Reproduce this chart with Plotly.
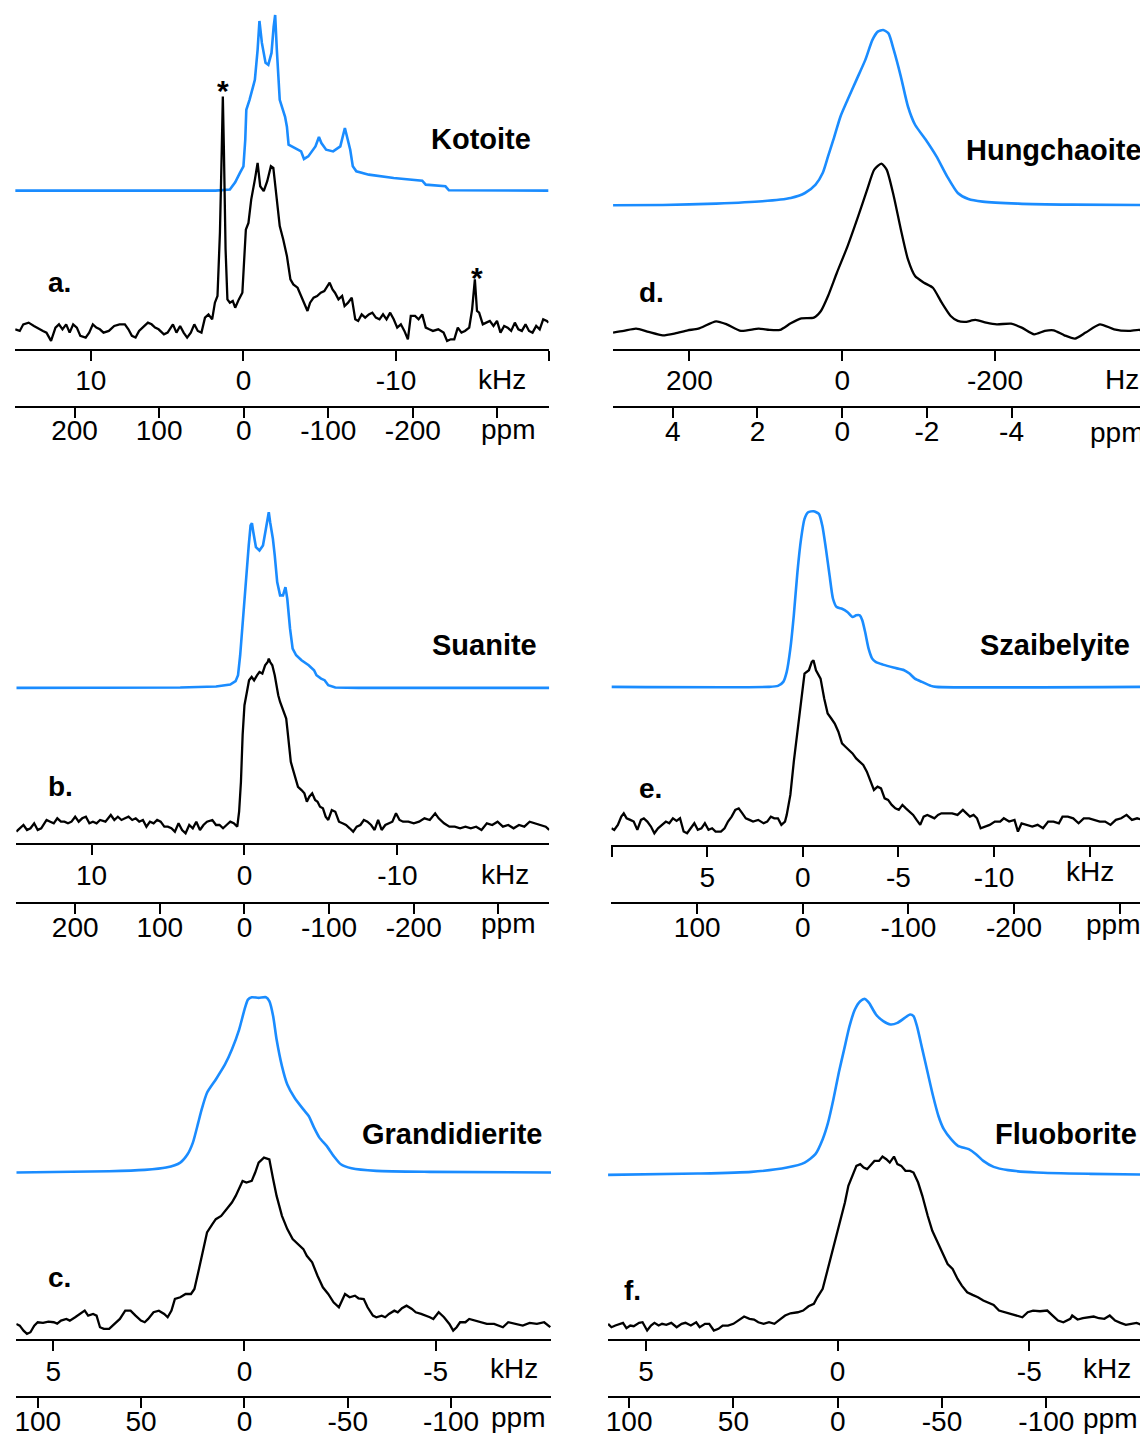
import plotly.graph_objects as go

W, H = 1148, 1437          # target page size
OFF = 8                    # default page body margin
FW, FH = W - OFF, H - OFF  # figure size
BLUE = '#1A8CFF'
BLACK = '#000000'
FONT = 'Liberation Sans, Arial, Helvetica, sans-serif'

# ---------------- data (frequency, intensity) ----------------
# a. Kotoite  (kHz)
kotoite_sim = [(14.96,0),(1.82,0),(0.89,1),(0.54,8.3),(0.23,17.7),(0.0,24.3),(-0.12,51),(-0.19,81),(-0.40,91),(-0.75,111),(-0.93,141),(-1.05,170),(-1.21,148),(-1.45,128),(-1.63,126),(-1.84,138),(-1.98,164),(-2.08,176),(-2.19,141),(-2.38,91),(-2.73,74),(-2.85,64),(-2.96,46),(-3.55,41.7),(-3.78,39.3),(-3.97,31.7),(-4.25,34.3),(-4.72,44.3),(-4.95,53.7),(-5.11,47.7),(-5.42,41),(-5.88,39.3),(-6.35,44.3),(-6.65,62.7),(-6.82,51),(-7.00,41),(-7.17,24.3),(-7.40,19.3),(-8.22,16),(-9.85,12.7),(-11.72,10),(-11.95,6),(-13.24,4.3),(-13.47,0.3),(-20.0,0)]
kotoite_exp = [(14.96,3.3),(14.66,1.7),(14.43,8.3),(14.08,10),(13.73,6.7),(13.49,5),(13.14,1.7),(12.91,0),(12.61,-8.3),(12.32,5),(12.09,8.3),(11.86,3.3),(11.62,8.3),(11.39,0),(11.16,8.3),(10.92,5),(10.69,-3.3),(10.34,-5),(10.11,0),(9.87,8.3),(9.64,5),(9.41,3.3),(9.17,0),(8.82,1.7),(8.47,6.7),(8.12,8.3),(7.77,8.3),(7.54,3.3),(7.31,-3.3),(7.07,-5),(6.84,1.7),(6.49,6.7),(6.26,10),(6.02,8.3),(5.79,5),(5.56,3.3),(5.21,-1.7),(4.97,0),(4.62,8.3),(4.39,0),(4.15,6.7),(3.92,0),(3.69,-5),(3.45,0),(3.22,8.3),(2.99,1.7),(2.75,0),(2.52,15),(2.29,18.3),(2.05,13.3),(1.87,30),(1.70,36.7),(1.54,100),(1.42,183.3),(1.35,236.7),(1.28,183.3),(1.17,83.3),(1.05,33.3),(0.89,30),(0.70,31.7),(0.54,25),(0.30,33.3),(0.07,40),(-0.05,73.3),(-0.16,103.3),(-0.33,110),(-0.51,133.3),(-0.75,153.3),(-0.93,170),(-1.10,146.7),(-1.33,141.7),(-1.56,151.7),(-1.80,166.7),(-1.96,165),(-2.15,140),(-2.38,106.7),(-2.61,93.3),(-2.85,76.7),(-3.08,53.3),(-3.27,48.3),(-3.55,45),(-3.78,36.7),(-4.01,30),(-4.20,21.7),(-4.37,30),(-4.60,35),(-4.83,36.7),(-5.07,40),(-5.30,41.7),(-5.53,46.7),(-5.65,50),(-5.84,43.3),(-6.00,40),(-6.23,33.3),(-6.47,36.7),(-6.63,26.7),(-6.86,30),(-7.10,35),(-7.33,13.3),(-7.52,11.7),(-7.75,18.3),(-7.98,15),(-8.22,18.3),(-8.45,20),(-8.68,15),(-8.92,13.3),(-9.15,18.3),(-9.38,13.3),(-9.62,20),(-9.85,13.3),(-10.08,5),(-10.32,8.3),(-10.55,1.7),(-10.78,-6.7),(-10.97,16.7),(-11.25,16.7),(-11.48,13.3),(-11.72,18.3),(-11.95,5),(-12.18,3.3),(-12.42,1.7),(-12.77,3.3),(-13.12,0),(-13.35,-8.3),(-13.59,-6.7),(-13.82,-6.7),(-14.05,5),(-14.29,0),(-14.52,1.7),(-14.80,5),(-14.99,23.3),(-15.17,53.3),(-15.31,21.7),(-15.45,20),(-15.69,8.3),(-15.92,10),(-16.15,11.7),(-16.39,6.7),(-16.62,11.7),(-16.85,0),(-17.09,6.7),(-17.32,5),(-17.55,1.7),(-17.79,10),(-18.02,3.3),(-18.25,1.7),(-18.49,8.3),(-18.72,1.7),(-18.95,0),(-19.19,6.7),(-19.42,3.3),(-19.65,13.3),(-19.89,11.7),(-20.0,10)]

# b. Suanite  (kHz)
suanite_sim = [(14.92,0),(4.20,0.3),(1.86,1.3),(0.93,3.3),(0.58,6.7),(0.42,12.7),(0.28,32.7),(0.12,66),(-0.12,112.7),(-0.28,142.7),(-0.40,162.7),(-0.49,165),(-0.58,156),(-0.75,141),(-0.98,137.7),(-1.21,142.7),(-1.40,159.3),(-1.59,176),(-1.68,166),(-1.86,149.3),(-1.98,132.7),(-2.14,106),(-2.33,92.7),(-2.52,92.7),(-2.68,101),(-2.80,89.3),(-2.98,59.3),(-3.15,39.3),(-3.38,32.7),(-3.73,27.7),(-4.20,22.7),(-4.55,17.7),(-4.71,12.7),(-5.01,9.3),(-5.24,7.7),(-5.48,2.7),(-5.94,0.3),(-7.46,0),(-19.93,0)]
suanite_exp = [(14.92,-6.7),(14.69,-3.3),(14.45,0),(14.22,-5),(13.99,-3.3),(13.75,1.7),(13.52,-5),(13.29,-3.3),(12.94,5),(12.70,3.3),(12.47,1.7),(12.24,6.7),(12.00,3.3),(11.77,3.3),(11.54,1.7),(11.31,3.3),(11.07,8.3),(10.84,3.3),(10.61,6.7),(10.37,8.3),(10.14,1.7),(9.91,3.3),(9.67,1.7),(9.44,5),(9.09,3.3),(8.74,10),(8.51,5),(8.28,8.3),(8.04,5),(7.81,6.7),(7.58,8.3),(7.34,5),(7.11,6.7),(6.88,3.3),(6.64,5),(6.41,-1.7),(6.18,3.3),(5.94,1.7),(5.71,5),(5.48,3.3),(5.24,-1.7),(5.01,-1.7),(4.78,-3.3),(4.55,-6.7),(4.31,1.7),(4.08,-5),(3.85,-8.3),(3.61,0),(3.38,-3.3),(3.15,3.3),(2.91,-5),(2.68,0),(2.45,3.3),(2.10,5),(1.86,0),(1.63,0),(1.40,-3.3),(1.17,0),(0.93,3.3),(0.70,1.7),(0.47,-1.7),(0.35,13.3),(0.23,43.3),(0.12,90),(0.0,120),(-0.16,133.3),(-0.30,145),(-0.47,148.3),(-0.63,145),(-0.82,150),(-0.98,153.3),(-1.17,151.7),(-1.35,160),(-1.52,163.3),(-1.59,166.7),(-1.68,163.3),(-1.82,160),(-1.98,150),(-2.10,136.7),(-2.21,130),(-2.33,123.3),(-2.56,113.3),(-2.73,106.7),(-2.80,96.7),(-2.91,76.7),(-3.03,63.3),(-3.15,56.7),(-3.26,50),(-3.50,38.3),(-3.73,35),(-3.92,31.7),(-4.08,23.3),(-4.24,28.3),(-4.43,31.7),(-4.62,25),(-4.78,23.3),(-4.94,18.3),(-5.13,16.7),(-5.31,8.3),(-5.48,5),(-5.71,15),(-5.94,13.3),(-6.18,3.3),(-6.41,1.7),(-6.64,0),(-6.88,-3.3),(-7.11,-6.7),(-7.34,-1.7),(-7.58,0),(-7.81,5),(-8.04,3.3),(-8.28,0),(-8.51,-5),(-8.74,5),(-8.97,-5),(-9.21,0),(-9.44,1.7),(-9.67,3.3),(-9.91,11.7),(-10.14,5),(-10.37,3.3),(-10.72,3.3),(-11.07,1.7),(-11.42,3.3),(-11.77,6.7),(-12.12,5),(-12.47,11.7),(-12.70,6.7),(-13.05,1.7),(-13.40,-1.7),(-13.75,-1.7),(-14.10,-3.3),(-14.45,-1.7),(-14.80,-3.3),(-15.15,-1.7),(-15.50,-5),(-15.85,1.7),(-16.20,0),(-16.55,3.3),(-16.90,-1.7),(-17.25,0),(-17.60,-3.3),(-17.95,0),(-18.30,-1.7),(-18.65,3.3),(-19.00,1.7),(-19.35,0),(-19.70,-1.7),(-19.93,-5)]

# c. Grandidierite  (kHz)
grandidierite_sim = [(5.97,0),(3.54,1.3),(2.61,2.7),(2.05,5),(1.68,10),(1.49,18.3),(1.35,30),(1.21,50),(1.12,63.3),(0.98,80),(0.75,93.3),(0.51,108.3),(0.33,123.3),(0.14,143.3),(0.0,163.3),(-0.09,173.3),(-0.19,175.7),(-0.37,175),(-0.56,175.7),(-0.65,171.7),(-0.75,156.7),(-0.84,133.3),(-0.98,106.7),(-1.12,88.3),(-1.31,75),(-1.54,63.3),(-1.68,56.7),(-1.82,45),(-1.96,35),(-2.15,26.7),(-2.33,16.7),(-2.52,8.3),(-2.80,4.3),(-3.45,1.7),(-4.85,0.7),(-8.02,0)]
grandidierite_exp = [(5.97,0),(5.88,-1.7),(5.78,-6.7),(5.69,-10),(5.60,-8.3),(5.50,-1.7),(5.41,1.7),(5.27,1),(5.13,2.3),(4.99,1.7),(4.90,0.3),(4.80,3.3),(4.66,5),(4.57,3.3),(4.43,6.7),(4.29,10),(4.18,13.3),(4.09,8.3),(3.96,10),(3.87,8.3),(3.78,-3.3),(3.68,-5),(3.54,-5),(3.45,-1.7),(3.36,1.7),(3.26,5),(3.12,13.3),(2.98,13.3),(2.85,8.3),(2.71,3.3),(2.61,1.7),(2.52,5),(2.38,11.7),(2.24,13.3),(2.10,10),(2.01,6.7),(1.91,13.3),(1.82,25),(1.68,26.7),(1.54,30),(1.40,30),(1.31,35),(1.21,51.7),(1.12,68.3),(0.98,91.7),(0.84,100),(0.75,105),(0.61,108.3),(0.47,115),(0.33,121.7),(0.23,128.3),(0.14,136.7),(0.05,143.3),(-0.05,141.7),(-0.19,143.3),(-0.28,151.7),(-0.37,161.7),(-0.51,166.7),(-0.65,165),(-0.75,145),(-0.84,128.3),(-0.98,108.3),(-1.12,95),(-1.26,85),(-1.40,80),(-1.54,75),(-1.63,68.3),(-1.77,61.7),(-1.91,48.3),(-2.05,36.7),(-2.19,30),(-2.33,21.7),(-2.47,16.7),(-2.57,25),(-2.63,30),(-2.75,26.7),(-2.89,28.3),(-2.98,25.7),(-3.12,25),(-3.22,16.7),(-3.36,8.3),(-3.45,6.7),(-3.59,8.3),(-3.68,6.7),(-3.78,10),(-3.92,13.3),(-4.01,11.7),(-4.12,15.7),(-4.24,18.3),(-4.38,15),(-4.48,11.7),(-4.62,10),(-4.76,8.3),(-4.85,6.7),(-4.94,5),(-5.08,11.7),(-5.22,6.7),(-5.36,0),(-5.46,-6.7),(-5.55,-3.3),(-5.64,1.7),(-5.78,1.7),(-5.88,5),(-6.02,3.3),(-6.16,1.7),(-6.34,0),(-6.53,0),(-6.67,-1.7),(-6.76,-3.3),(-6.90,1.7),(-7.09,0),(-7.28,-1.7),(-7.46,1),(-7.65,0),(-7.84,1.7),(-8.0,-3.3)]

# d. Hungchaoite  (Hz)
hungchaoite_sim = [(300,0),(234.9,0.3),(165.1,1.7),(104.6,4),(67.4,7.3),(48.8,12.3),(34.9,20.7),(25.6,32.3),(18.6,49),(11.6,65.7),(2.3,89),(-7.0,105.7),(-18.6,125.7),(-30.2,145.7),(-39.5,165.7),(-46.5,174),(-53.5,175.7),(-60.5,172.3),(-67.4,155.7),(-76.7,129),(-86.0,99),(-95.3,80.7),(-109.3,65.7),(-123.3,49),(-137.2,29),(-151.2,12.3),(-165.1,6.3),(-183.7,3.7),(-230.2,1.7),(-300,0.7),(-399,0.3)]
hungchaoite_exp = [(300,0),(286.0,1.7),(269.8,4),(253.5,0.7),(234.9,-2.7),(218.6,-0.7),(202.3,2.3),(188.4,4),(165.1,11.3),(151.2,8.3),(132.6,1.7),(109.3,4),(95.3,2.7),(81.4,2.7),(67.4,9.3),(53.5,14.3),(37.2,15),(27.9,21.7),(18.6,36.7),(7.0,60),(-7.0,86.7),(-20.9,116.7),(-32.6,143.3),(-41.9,163.3),(-51.2,169.3),(-58.1,163.3),(-67.4,136.7),(-76.7,103.3),(-86.0,73.3),(-95.3,56.7),(-107.0,50),(-118.6,45),(-130.2,30),(-141.9,16.7),(-151.2,11.7),(-160.5,10.7),(-174.4,12.7),(-188.4,10),(-202.3,8.3),(-220.9,9),(-234.9,5),(-251.2,-1.7),(-265.1,1.7),(-276.7,2.3),(-290.7,-2.7),(-304.7,-6),(-318.6,0),(-337.2,8.3),(-355.8,3.3),(-374.4,1.7),(-388.4,2.7),(-399,1.3)]

# e. Szaibelyite  (kHz)
szaibelyite_sim = [(10.0,0),(1.77,0),(1.30,1),(1.02,5),(0.84,15),(0.65,38.3),(0.47,71.7),(0.28,115),(0.09,148.3),(-0.09,168.3),(-0.28,175),(-0.56,176),(-0.84,173.3),(-1.02,161.7),(-1.21,138.3),(-1.40,111.7),(-1.58,88.3),(-1.77,80),(-2.05,78.3),(-2.33,75),(-2.60,70),(-2.79,71.7),(-2.98,71.7),(-3.11,66.7),(-3.26,55),(-3.44,38.3),(-3.63,28.3),(-3.81,25),(-4.19,22.3),(-4.74,19.3),(-5.30,16.7),(-5.58,13.3),(-5.86,8.3),(-6.23,5),(-6.70,1),(-6.98,0),(-18.05,0)]
szaibelyite_exp = [(10.0,-6.7),(9.86,-8.3),(9.67,-3.3),(9.49,5),(9.36,8.3),(9.21,3.3),(9.02,1.7),(8.84,0),(8.65,-8.3),(8.46,1.7),(8.31,3.3),(8.13,0),(7.94,-5),(7.76,-11.7),(7.57,-6.7),(7.35,-3.3),(7.16,0),(6.98,-1.7),(6.79,3.3),(6.60,0.7),(6.42,3.3),(6.23,-10),(6.05,-11.7),(5.86,-6.7),(5.67,-1.7),(5.49,-8.3),(5.30,-6.7),(5.12,-1.7),(4.93,-8.3),(4.74,-6.7),(4.56,-10),(4.28,-10),(4.09,-6.7),(3.91,0),(3.72,5),(3.53,11.7),(3.35,13.3),(3.16,8.3),(2.98,3.3),(2.79,1.7),(2.60,0),(2.33,1.7),(2.05,-1.7),(1.86,0),(1.67,5),(1.49,3.3),(1.30,3.3),(1.12,-3.3),(0.93,0),(0.84,6.7),(0.65,26.7),(0.47,60),(0.28,93.3),(0.09,120),(-0.09,148.3),(-0.32,151.7),(-0.47,160),(-0.56,161.7),(-0.69,151.7),(-0.93,143.3),(-1.12,123.3),(-1.30,108.3),(-1.49,103.3),(-1.67,98.3),(-1.86,90),(-2.05,78.3),(-2.23,75),(-2.42,71.7),(-2.60,68.3),(-2.79,63.3),(-2.98,60),(-3.16,56.7),(-3.35,50),(-3.53,40),(-3.72,31.7),(-3.91,35),(-4.09,33.3),(-4.28,23.3),(-4.46,21.7),(-4.65,16.7),(-4.84,13.3),(-5.02,11.7),(-5.21,16.7),(-5.39,13.3),(-5.58,10),(-5.77,6.7),(-5.95,1.7),(-6.14,-3.3),(-6.32,5),(-6.51,6.7),(-6.70,5),(-6.88,3.3),(-7.07,6.7),(-7.25,8.3),(-7.53,8.3),(-7.81,8.3),(-8.09,6.7),(-8.37,11.7),(-8.56,8.3),(-8.74,5),(-8.93,6.7),(-9.11,3.3),(-9.30,-6.7),(-9.49,-5),(-9.77,-3.3),(-10.04,0),(-10.32,0),(-10.51,3.3),(-10.79,0),(-11.07,1.7),(-11.25,-10),(-11.44,-1.7),(-11.72,-3.3),(-12.00,-5),(-12.28,-3.3),(-12.56,-6.7),(-12.83,0),(-13.11,0),(-13.39,-1.7),(-13.58,5),(-13.86,5),(-14.14,3.3),(-14.42,-1.7),(-14.69,3.3),(-14.97,3.3),(-15.25,1.7),(-15.53,0),(-15.81,0),(-16.09,-3.3),(-16.37,1.7),(-16.65,3.3),(-16.93,6.7),(-17.21,1.7),(-17.48,3.3),(-17.76,1.7),(-17.95,8.3)]

# f. Fluoborite  (kHz)
fluoborite_sim = [(5.99,0),(3.65,1.3),(2.25,3),(1.32,7.3),(0.86,12.3),(0.58,20.7),(0.39,35.7),(0.25,52.3),(0.11,75.7),(-0.03,102.3),(-0.17,125.7),(-0.31,149),(-0.45,165.7),(-0.59,174),(-0.71,176.3),(-0.82,172.3),(-1.00,160.7),(-1.19,154),(-1.38,150.7),(-1.56,152.3),(-1.75,157.3),(-1.89,160.7),(-1.98,159),(-2.07,149),(-2.21,125.7),(-2.35,102.3),(-2.49,79),(-2.63,59),(-2.77,45.7),(-2.96,35.7),(-3.14,29),(-3.42,25.7),(-3.61,20.7),(-3.80,14),(-4.07,8),(-4.45,4.7),(-5.19,2.3),(-6.59,1),(-8.03,0.3)]
fluoborite_exp = [(5.99,1.7),(5.90,-1.7),(5.80,0),(5.69,1.7),(5.60,2.7),(5.51,-2.7),(5.41,0),(5.32,-0.7),(5.18,2.7),(5.09,3.3),(4.97,-5),(4.87,0),(4.78,2.7),(4.67,0),(4.58,1.7),(4.47,0.7),(4.34,2.7),(4.20,-1.7),(4.07,1.7),(3.97,2.7),(3.83,0),(3.69,3.3),(3.60,-1.7),(3.46,1.7),(3.35,1.7),(3.23,-5),(3.11,-3.3),(3.00,0),(2.86,0),(2.72,1.7),(2.58,5),(2.44,9),(2.30,6.7),(2.18,6),(2.07,3.3),(1.93,1.7),(1.79,3.3),(1.65,1.7),(1.51,6),(1.37,10),(1.23,12.3),(1.04,13.3),(0.90,15),(0.76,19.3),(0.62,21.7),(0.53,28.3),(0.39,36.7),(0.30,50),(0.20,63.3),(0.11,76.7),(0.02,90),(-0.07,103.3),(-0.19,123.3),(-0.28,140),(-0.40,151.7),(-0.49,160),(-0.59,161.7),(-0.68,158.3),(-0.77,156.7),(-0.87,160.7),(-0.96,165),(-1.08,165),(-1.17,169.3),(-1.27,166.7),(-1.36,163.3),(-1.47,169.3),(-1.56,161.7),(-1.66,160),(-1.77,155),(-1.89,155),(-1.98,153.3),(-2.10,143.3),(-2.21,130),(-2.35,110),(-2.47,95),(-2.59,85),(-2.73,73.3),(-2.87,61.7),(-3.00,56.7),(-3.13,46.7),(-3.24,40),(-3.38,33.3),(-3.52,30.7),(-3.66,28.3),(-3.80,25),(-3.93,22.7),(-4.07,20.7),(-4.21,15),(-4.35,13.3),(-4.54,11.7),(-4.68,10),(-4.82,8.3),(-4.96,13.3),(-5.10,15),(-5.28,14.3),(-5.47,15),(-5.61,10),(-5.75,5),(-5.89,3.3),(-6.07,6.7),(-6.12,10),(-6.26,6),(-6.40,7.3),(-6.54,8.3),(-6.68,9),(-6.82,7.3),(-6.96,6.7),(-7.10,10),(-7.24,5),(-7.38,2.7),(-7.52,0.7),(-7.66,1.7),(-7.80,2.7),(-7.93,0.7),(-8.03,0)]

# axis ticks / labels
titles = ['Kotoite', 'Suanite', 'Grandidierite', 'Hungchaoite', 'Szaibelyite', 'Fluoborite']
letters = ['a.', 'b.', 'c.', 'd.', 'e.', 'f.']
freq_units = ['kHz', 'kHz', 'kHz', 'Hz', 'kHz', 'kHz']
freq_ticks = [[10, 0, -10, -20], [10, 0, -10, -20], [5, 0, -5], [200, 0, -200, -400], [10, 5, 0, -5, -10, -15], [5, 0, -5]]
freq_ticktext = [['10', '0', '-10', ''], ['10', '0', '-10', ''], ['5', '0', '-5'], ['200', '0', '-200', ''],
                 ['', '5', '0', '-5', '-10', ''], ['5', '0', '-5']]
ppm_ticks = [[200, 100, 0, -100, -200, -300], [200, 100, 0, -100, -200, -300], [100, 50, 0, -50, -100],
             [4, 2, 0, -2, -4], [100, 0, -100, -200, -300], [100, 50, 0, -50, -100]]
ppm_ticktext = [['200', '100', '0', '-100', '-200', ''], ['200', '100', '0', '-100', '-200', ''],
                ['100', '50', '0', '-50', '-100'], ['4', '2', '0', '-2', '-4'],
                ['100', '0', '-100', '-200', ''], ['100', '50', '0', '-50', '-100']]

# ---------------- layout geometry (page pixels) ----------------
panels = [
    dict(sim=kotoite_sim, exp=kotoite_exp, x0=13.2, x1=547.5, xr=[14.96, -20.0], top=0, axis=349.3, base=333.3,
         offset=142.3, ppm_axis=406.7, ppm_range=[270.2, -360.5], unit_pos=(501, 380), ppm_pos=(507, 430),
         title_pos=(480, 139.3), letter_pos=(58, 283), sim_shape='linear', exp_shape='linear'),
    dict(sim=suanite_sim, exp=suanite_exp, x0=14.3, x1=548.2, xr=[14.92, -19.93], top=490, axis=845, base=826.7,
         offset=137.4, ppm_axis=904.3, ppm_range=[269.6, -360.2], unit_pos=(503.6, 876.7), ppm_pos=(507, 925),
         title_pos=(483, 646.7), letter_pos=(58.5, 788.3), sim_shape='linear', exp_shape='linear'),
    dict(sim=grandidierite_sim, exp=grandidierite_exp, x0=14.3, x1=550.0, xr=[5.97, -8.02], top=985, axis=1341.7,
         base=1326.7, offset=151.7, ppm_axis=1399.3, ppm_range=[110.4, -148.4], unit_pos=(512.5, 1371.7),
         ppm_pos=(517, 1420.5), title_pos=(451, 1136.7), letter_pos=(58, 1280), sim_shape='spline', exp_shape='linear'),
    dict(sim=hungchaoite_sim, exp=hungchaoite_exp, x0=612.1, x1=1147.1, xr=[300, -399], top=0, axis=349.3, base=333.3,
         offset=127.6, ppm_axis=407.3, ppm_range=[5.41, -7.2], unit_pos=(1122, 380), ppm_pos=(1117, 433.3),
         title_pos=(1053.5, 150), letter_pos=(650.5, 293.3), sim_shape='spline', exp_shape='spline'),
    dict(sim=szaibelyite_sim, exp=szaibelyite_exp, x0=610.4, x1=1148, xr=[10.01, -18.05], top=490, axis=846.7,
         base=823.3, offset=135, ppm_axis=904.3, ppm_range=[181.3, -326.9], unit_pos=(1090, 873.3),
         ppm_pos=(1113.2, 926.7), title_pos=(1055, 646.7), letter_pos=(649.5, 790), sim_shape='spline', exp_shape='linear'),
    dict(sim=fluoborite_sim, exp=fluoborite_exp, x0=607.1, x1=1145.4, xr=[5.99, -8.03], top=985, axis=1341.7,
         base=1328.3, offset=151, ppm_axis=1399.3, ppm_range=[110.1, -147.5], unit_pos=(1107, 1371.7),
         ppm_pos=(1110.4, 1421.7), title_pos=(1066, 1136.7), letter_pos=(632, 1293.3), sim_shape='spline', exp_shape='linear'),
]
star_pos = [(221.4, 91), (475.7, 278)]


def fy(py):
    return min(1.0, 1 - (py - OFF) / FH)


def fx(px):
    return max(0.0, min(1.0, (px - OFF) / FW))


def ax_names(n):
    if n == 1:
        return 'x', 'y', 'xaxis', 'yaxis'
    return f'x{n}', f'y{n}', f'xaxis{n}', f'yaxis{n}'


fig = go.Figure()
layout = {}
annotations = []
TICKFONT = dict(family=FONT, size=28, color=BLACK)

for i, p in enumerate(panels):
    n = i + 1
    m = i + 7
    xa, ya, xk, yk = ax_names(n)
    xb, yb, xbk, ybk = ax_names(m)

    sx, sy = zip(*p['sim'])
    ex, ey = zip(*p['exp'])
    fig.add_trace(go.Scatter(x=list(sx), y=[v + p['offset'] for v in sy], xaxis=xa, yaxis=ya, mode='lines',
                             line=dict(color=BLUE, width=2.6, shape=p['sim_shape'], smoothing=0.6),
                             showlegend=False, hoverinfo='skip'))
    fig.add_trace(go.Scatter(x=list(ex), y=list(ey), xaxis=xa, yaxis=ya, mode='lines',
                             line=dict(color=BLACK, width=2.3, shape=p['exp_shape'], smoothing=0.6),
                             showlegend=False, hoverinfo='skip'))
    # invisible trace hosting the ppm axis
    fig.add_trace(go.Scatter(x=[p['ppm_range'][0]], y=[0], xaxis=xb, yaxis=yb, mode='markers',
                             marker=dict(size=1, opacity=0), showlegend=False, hoverinfo='skip'))

    top = max(p['top'], OFF)
    dom = [fx(p['x0']), fx(p['x1'])]
    layout[xk] = dict(domain=dom, range=p['xr'], anchor=ya, showline=True, linecolor=BLACK, linewidth=2,
                      ticks='outside', ticklen=10, tickwidth=2, tickcolor=BLACK,
                      tickmode='array', tickvals=freq_ticks[i], ticktext=freq_ticktext[i],
                      tickfont=TICKFONT, ticklabelstandoff=-4, showgrid=False, zeroline=False, fixedrange=True)
    layout[yk] = dict(domain=[fy(p['axis']), fy(top)], range=[p['base'] - p['axis'], p['base'] - top],
                      visible=False, showgrid=False, zeroline=False, fixedrange=True)
    layout[xbk] = dict(domain=dom, range=p['ppm_range'], anchor=yb, showline=True, linecolor=BLACK, linewidth=2,
                       ticks='outside', ticklen=10, tickwidth=2, tickcolor=BLACK,
                       tickmode='array', tickvals=ppm_ticks[i], ticktext=ppm_ticktext[i],
                       tickfont=TICKFONT, ticklabelstandoff=-11, showgrid=False, zeroline=False, fixedrange=True)
    layout[ybk] = dict(domain=[fy(p['ppm_axis']), fy(p['ppm_axis'] - 3)], range=[0, 1],
                       visible=False, showgrid=False, zeroline=False, fixedrange=True)

    annotations.append(dict(text=freq_units[i], x=fx(p['unit_pos'][0]), y=fy(p['unit_pos'][1]), xref='paper',
                            yref='paper', showarrow=False, xanchor='center', yanchor='middle', font=TICKFONT))
    annotations.append(dict(text='ppm', x=fx(p['ppm_pos'][0]), y=fy(p['ppm_pos'][1]), xref='paper',
                            yref='paper', showarrow=False, xanchor='center', yanchor='middle', font=TICKFONT))
    annotations.append(dict(text='<b>' + titles[i] + '</b>', x=fx(p['title_pos'][0]), y=fy(p['title_pos'][1]),
                            xref='paper', yref='paper', showarrow=False, xanchor='center', yanchor='middle',
                            font=dict(family=FONT, size=29, color=BLACK)))
    annotations.append(dict(text='<b>' + letters[i] + '</b>', x=fx(p['letter_pos'][0]), y=fy(p['letter_pos'][1]),
                            xref='paper', yref='paper', showarrow=False, xanchor='center', yanchor='middle',
                            font=dict(family=FONT, size=28, color=BLACK)))

for (sxp, syp) in star_pos:
    annotations.append(dict(text='<b>*</b>', x=fx(sxp), y=fy(syp), xref='paper', yref='paper', showarrow=False,
                            xanchor='center', yanchor='middle', font=dict(family=FONT, size=30, color=BLACK)))

fig.update_layout(width=FW, height=FH, margin=dict(l=0, r=0, t=0, b=0, pad=0), paper_bgcolor='white',
                  plot_bgcolor='white', showlegend=False, annotations=annotations, **layout)

fig.write_html("out.html")
